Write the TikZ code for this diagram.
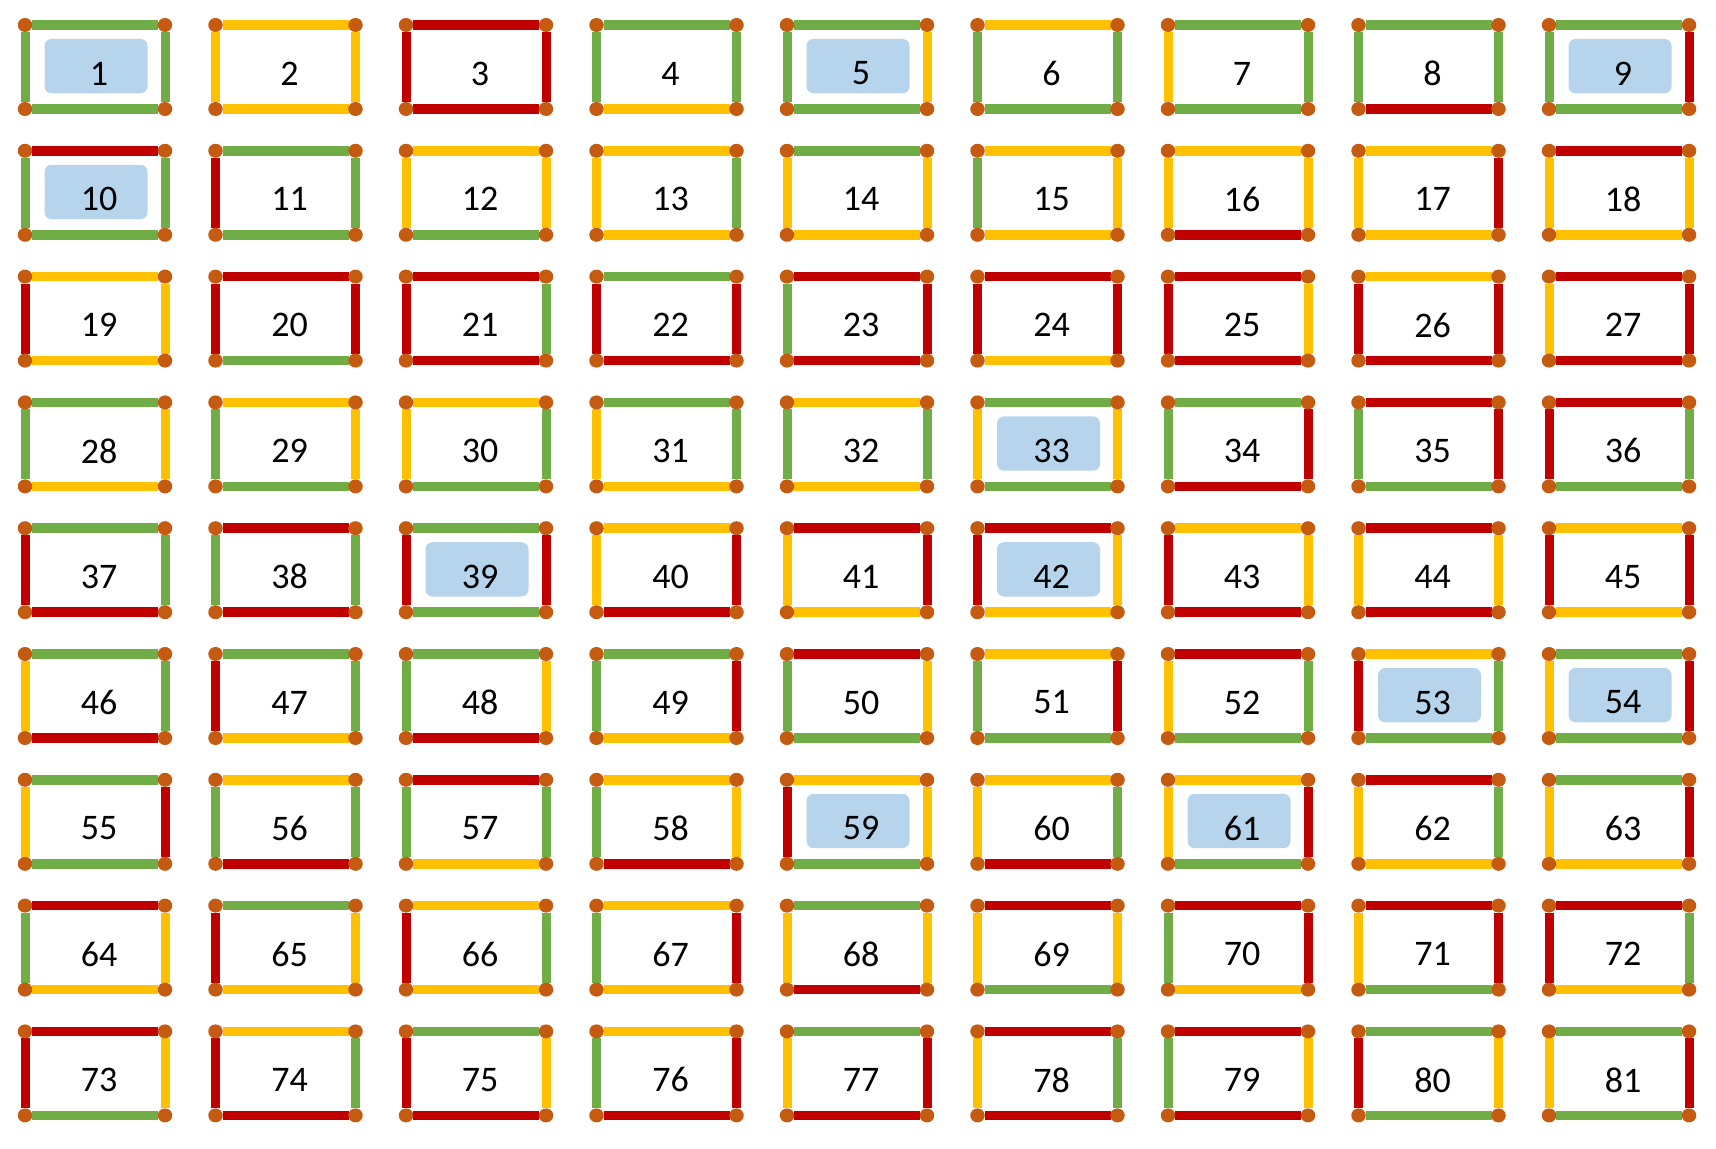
\documentclass[tikz,border=0pt]{standalone}
\usepackage{fontspec}
\setmainfont{Carlito}
\definecolor{cG}{RGB}{112,173,71}
\definecolor{cY}{RGB}{255,192,0}
\definecolor{cR}{RGB}{192,0,0}
\definecolor{cD}{RGB}{197,90,17}
\definecolor{cH}{RGB}{182,213,236}
\tikzset{
  hbar/.style={line width=4.75pt},
  vbar/.style={line width=4.5pt},
  jointdot/.style={fill=cD},
  hilite/.style={fill=cH, rounded corners=3.5pt},
  numlabel/.style={font=\fontsize{18}{20}\selectfont, inner sep=0pt}
}
\begin{document}
\begin{tikzpicture}[x=0.5pt,y=-0.5pt]
\useasboundingbox (0,0) rectangle (1716,1149);
\fill[white] (0,0) rectangle (1716,1149);
\foreach \n/\tp/\bt/\lf/\rt/\h in {
1/G/G/G/G/1, 2/Y/Y/Y/Y/0, 3/R/R/R/R/0, 4/G/Y/G/G/0, 5/G/G/G/Y/1, 6/Y/G/G/G/0, 7/G/G/Y/G/0, 8/G/R/G/G/0, 9/G/G/G/R/1,
10/R/G/G/G/1, 11/G/G/R/G/0, 12/Y/G/Y/Y/0, 13/Y/Y/Y/G/0, 14/G/Y/Y/Y/0, 15/Y/Y/G/Y/0, 16/Y/R/Y/Y/0, 17/Y/Y/Y/R/0, 18/R/Y/Y/Y/0,
19/Y/Y/R/Y/0, 20/R/G/R/R/0, 21/R/R/R/G/0, 22/G/R/R/R/0, 23/R/R/G/R/0, 24/R/Y/R/R/0, 25/R/R/R/Y/0, 26/Y/R/R/R/0, 27/R/R/Y/R/0,
28/G/Y/G/Y/0, 29/Y/G/G/Y/0, 30/Y/G/Y/G/0, 31/G/Y/Y/G/0, 32/Y/Y/G/G/0, 33/G/G/Y/Y/1, 34/G/R/G/R/0, 35/R/G/G/R/0, 36/R/G/R/G/0,
37/G/R/R/G/0, 38/R/R/G/G/0, 39/G/G/R/R/1, 40/Y/R/Y/R/0, 41/R/Y/Y/R/0, 42/R/Y/R/Y/1, 43/Y/R/R/Y/0, 44/R/R/Y/Y/0, 45/Y/Y/R/R/0,
46/G/R/Y/G/0, 47/G/Y/R/G/0, 48/G/R/G/Y/0, 49/G/Y/G/R/0, 50/R/G/G/Y/0, 51/Y/G/G/R/0, 52/R/G/Y/G/0, 53/Y/G/R/G/1, 54/G/G/Y/R/1,
55/G/G/Y/R/0, 56/Y/R/G/G/0, 57/R/Y/G/G/0, 58/Y/R/G/Y/0, 59/Y/G/R/Y/1, 60/Y/R/Y/G/0, 61/Y/G/Y/R/1, 62/R/Y/Y/G/0, 63/G/Y/Y/R/0,
64/R/Y/G/Y/0, 65/G/Y/R/Y/0, 66/Y/Y/R/G/0, 67/Y/Y/G/R/0, 68/G/R/Y/Y/0, 69/R/G/Y/Y/0, 70/R/Y/G/R/0, 71/R/G/Y/R/0, 72/R/Y/R/G/0,
73/R/G/R/Y/0, 74/Y/R/R/G/0, 75/G/R/R/Y/0, 76/Y/R/G/R/0, 77/G/R/Y/R/0, 78/R/R/Y/G/0, 79/R/R/G/Y/0, 80/G/G/R/Y/0, 81/G/G/Y/R/0}{
  \pgfmathsetmacro{\cx}{25+mod(\n-1,9)*190.5}
  \pgfmathsetmacro{\cy}{25+int((\n-1)/9)*125.8}
  \ifnum\h=1
    \fill[hilite] (\cx+19.5,\cy+14) rectangle (\cx+122.5,\cy+68.3);
  \fi
  \node[numlabel] (n\n) at (\cx+74,\cy+48.5) {\n};
  \draw[vbar, c\lf] (\cx,\cy+7) -- (\cx,\cy+77);
  \draw[vbar, c\rt] (\cx+140,\cy+7) -- (\cx+140,\cy+77);
  \draw[hbar, c\tp] (\cx+7,\cy) -- (\cx+133,\cy);
  \draw[hbar, c\bt] (\cx+7,\cy+84) -- (\cx+133,\cy+84);
  \fill[jointdot] (\cx,\cy) ellipse [x radius=7.25, y radius=7];
  \fill[jointdot] (\cx+140,\cy) ellipse [x radius=7.25, y radius=7];
  \fill[jointdot] (\cx,\cy+84) ellipse [x radius=7.25, y radius=7];
  \fill[jointdot] (\cx+140,\cy+84) ellipse [x radius=7.25, y radius=7];
}
\end{tikzpicture}
\end{document}
